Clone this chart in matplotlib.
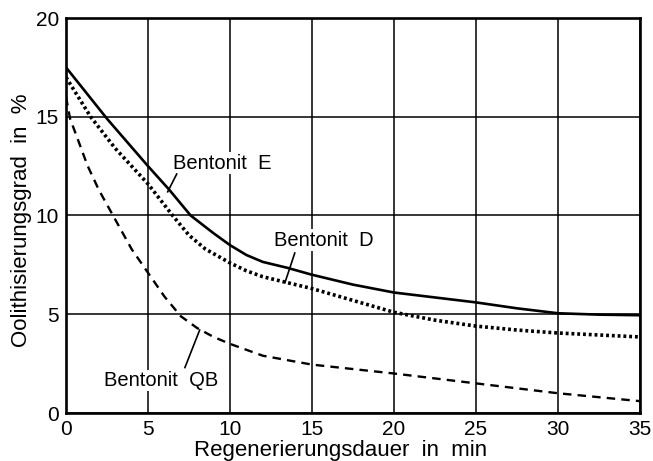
import matplotlib
matplotlib.use("Agg")
import matplotlib.pyplot as plt

plt.rcParams['font.family'] = ['Liberation Sans', 'DejaVu Sans']

# Data
x_E = [0, 2.5, 5, 6.3, 7.6, 9, 10, 11, 12, 13.5, 15, 17.5, 20, 22.5, 25, 27.5, 30, 32.5, 35]
y_E = [17.5, 14.9, 12.5, 11.3, 10.0, 9.1, 8.5, 8.0, 7.65, 7.35, 7.0, 6.5, 6.1, 5.85, 5.6, 5.3, 5.05, 4.98, 4.95]

x_D = [0, 1.5, 3, 5, 6.5, 7.5, 8.5, 10, 11, 12, 13.5, 15, 17.5, 20, 22.5, 25, 27.5, 30, 32.5, 35]
y_D = [17.0, 15.0, 13.4, 11.6, 10.0, 9.0, 8.3, 7.6, 7.2, 6.9, 6.6, 6.3, 5.7, 5.1, 4.7, 4.4, 4.2, 4.05, 3.95, 3.85]

x_QB = [0, 0.25, 0.7, 1.3, 2, 3, 4, 5, 6, 7, 8, 9, 10, 12, 15, 20, 25, 30, 35]
y_QB = [16.0, 14.9, 13.9, 12.55, 11.3, 9.8, 8.3, 7.1, 5.9, 4.9, 4.3, 3.85, 3.5, 2.9, 2.45, 2.0, 1.5, 1.0, 0.6]

x_ticks = [0, 5, 10, 15, 20, 25, 30, 35]
y_ticks = [0, 5, 10, 15, 20]

fig = plt.figure(figsize=(6.53, 4.61), dpi=100)
ax = fig.add_axes([66/653, 1 - 413/461, (640-66)/653, (413-18)/461])

ax.plot(x_E, y_E, color='black', lw=1.9, ls='-', zorder=3)
ax.plot(x_D, y_D, color='black', lw=2.6, ls=(0, (0.8, 0.8)), dash_capstyle='butt', zorder=3)
ax.plot(x_QB, y_QB, color='black', lw=1.7, ls=(0, (3.6, 2.6)), zorder=3)

ax.set_xlim(0, 35)
ax.set_ylim(0, 20)
ax.set_xticks(x_ticks)
ax.set_yticks(y_ticks)
ax.grid(True, color='black', lw=1.1)
ax.tick_params(length=0, labelsize=15)
ax.tick_params(axis='x', pad=5)
ax.tick_params(axis='y', pad=5)
for s in ax.spines.values():
    s.set_linewidth(1.9)
    s.set_zorder(4)

ax.set_xlabel('Regenerierungsdauer  in  min', fontsize=16, labelpad=0.5)
ax.set_ylabel('Oolithisierungsgrad  in  %', fontsize=16, labelpad=3)
ax.xaxis.label.set_x(0.479)
ax.yaxis.label.set_y(0.489)

# Labels with pointer lines
ax.text(9.5, 12.65, 'Bentonit  E', fontsize=14.5, ha='center', va='center',
        bbox=dict(facecolor='white', edgecolor='none', pad=1), zorder=5)
ax.plot([6.75, 6.2], [12.1, 11.2], color='black', lw=1.2, zorder=5)

ax.text(15.75, 8.75, 'Bentonit  D', fontsize=14.5, ha='center', va='center',
        bbox=dict(facecolor='white', edgecolor='none', pad=1), zorder=5)
ax.plot([13.95, 13.35], [8.1, 6.6], color='black', lw=1.2, zorder=5)

ax.text(5.8, 1.65, 'Bentonit  QB', fontsize=14.5, ha='center', va='center',
        bbox=dict(facecolor='white', edgecolor='none', pad=1), zorder=5)
ax.plot([7.25, 8.15], [2.3, 4.2], color='black', lw=1.2, zorder=5)

fig.savefig('out.png', dpi=100)
